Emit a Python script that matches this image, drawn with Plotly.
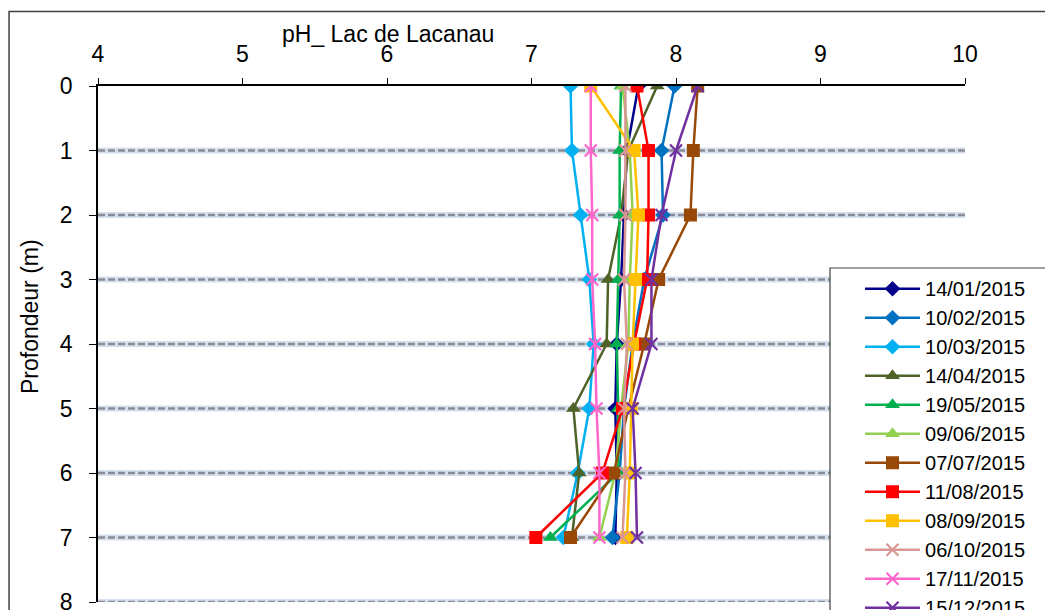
import plotly.graph_objects as go

depths = [0, 1, 2, 3, 4, 5, 6, 7]
depth_ticks = [0, 1, 2, 3, 4, 5, 6, 7, 8]
ph_ticks = [4, 5, 6, 7, 8, 9, 10]

dates = ["14/01/2015", "10/02/2015", "10/03/2015", "14/04/2015", "19/05/2015", "09/06/2015",
         "07/07/2015", "11/08/2015", "08/09/2015", "06/10/2015", "17/11/2015", "15/12/2015"]

ph_14_01 = [7.74, 7.66, 7.64, 7.62, 7.59, 7.58, 7.59, 7.58]
ph_10_02 = [7.99, 7.90, 7.91, 7.78, 7.70, 7.64, 7.61, 7.56]
ph_10_03 = [7.27, 7.28, 7.34, 7.40, 7.43, 7.40, 7.32, 7.22]
ph_14_04 = [7.87, 7.67, 7.62, 7.53, 7.52, 7.29, 7.33, 7.28]
ph_19_05 = [7.62, 7.61, 7.61, 7.60, 7.59, 7.60, 7.60, 7.13]
ph_09_06 = [7.63, 7.68, 7.70, 7.68, 7.67, 7.62, 7.58, 7.47]
ph_07_07 = [8.15, 8.12, 8.10, 7.88, 7.78, 7.67, 7.57, 7.27]
ph_11_08 = [7.73, 7.81, 7.81, 7.80, 7.71, 7.63, 7.49, 7.03]
ph_08_09 = [7.41, 7.71, 7.74, 7.72, 7.70, 7.69, 7.68, 7.66]
ph_06_10 = [7.65, 7.65, 7.65, 7.64, 7.66, 7.64, 7.65, 7.63]
ph_17_11 = [7.41, 7.41, 7.42, 7.42, 7.44, 7.45, 7.47, 7.47]
ph_15_12 = [8.15, 8.00, 7.90, 7.83, 7.83, 7.70, 7.72, 7.73]

series = [ph_14_01, ph_10_02, ph_10_03, ph_14_04, ph_19_05, ph_09_06,
          ph_07_07, ph_11_08, ph_08_09, ph_06_10, ph_17_11, ph_15_12]
colors = ["#00008B", "#0070C0", "#00B0F0", "#4F6228", "#00B050", "#92D050",
          "#984807", "#FF0000", "#FFC000", "#D99694", "#FF66CC", "#7030A0"]
symbols = ["diamond", "diamond", "diamond", "triangle-up", "triangle-up", "triangle-up",
           "square", "square", "square", "x-thin", "x-thin", "x-thin"]

FONT = "Liberation Sans"

fig = go.Figure()
for name, vals, col, sym in zip(dates, series, colors, symbols):
    if sym == "x-thin":
        marker = dict(symbol=sym, size=12, color=col, line=dict(width=2.2, color=col))
    elif sym == "square":
        marker = dict(symbol=sym, size=13, color=col)
    elif sym == "triangle-up":
        marker = dict(symbol=sym, size=13, color=col)
    else:
        marker = dict(symbol=sym, size=12, color=col)
    fig.add_trace(go.Scatter(x=vals, y=depths, name=name, mode="lines+markers",
                             line=dict(color=col, width=2.5), marker=marker))

shapes = []
for d in depth_ticks[1:]:
    shapes.append(dict(type="line", xref="paper", yref="y", x0=0, x1=1, y0=d, y1=d,
                       line=dict(color="#D5E0EE", width=6), layer="below"))
    shapes.append(dict(type="line", xref="paper", yref="y", x0=0, x1=1, y0=d, y1=d,
                       line=dict(color="#8C8C96", width=2.5, dash="7px,3px"), layer="below"))
# outer chart frame
shapes.append(dict(type="rect", xref="paper", yref="paper", x0=-0.1026, x1=1.3, y0=-0.2, y1=1.1444,
                   line=dict(color="#404040", width=1.5), layer="below"))
# legend box
shapes.append(dict(type="rect", xref="paper", yref="paper", x0=0.8443, x1=1.3, y0=-0.2, y1=0.6473,
                   line=dict(color="#404040", width=1.2), fillcolor="white", layer="above"))

fig.update_layout(
    width=1045, height=602,
    margin=dict(l=90, r=88, t=78, b=8, autoexpand=False),
    paper_bgcolor="white", plot_bgcolor="white",
    font=dict(family=FONT, size=22, color="black"),
    shapes=shapes,
    showlegend=True,
    legend=dict(x=0.8789, y=0.645, xanchor="left", yanchor="top",
                bgcolor="rgba(0,0,0,0)", borderwidth=0,
                font=dict(family=FONT, size=20), itemwidth=55, tracegroupgap=0),
    annotations=[
        dict(text="pH_ Lac de Lacanau", xref="paper", yref="paper", x=0.3345, y=1.1015,
             xanchor="center", yanchor="middle",
             showarrow=False, font=dict(family=FONT, size=23)),
        dict(text="Profondeur (m)", xref="paper", yref="paper", x=-0.0784, y=0.5523,
             xanchor="center", yanchor="middle",
             showarrow=False, textangle=-90, font=dict(family=FONT, size=23)),
    ],
)
fig.update_xaxes(side="top", range=[4, 10], tickvals=ph_ticks, showgrid=False, zeroline=False,
                 showline=True, linecolor="black", linewidth=1.5, ticks="outside", ticklen=6,
                 tickcolor="black", tickfont=dict(family=FONT, size=23), ticklabelstandoff=7,
                 ticklabeloverflow="allow")
fig.update_yaxes(range=[8, 0], tickvals=depth_ticks, showgrid=False, zeroline=False,
                 showline=True, linecolor="black", linewidth=1.5, ticks="outside", ticklen=7,
                 tickcolor="black", tickfont=dict(family=FONT, size=23), ticklabelstandoff=12,
                 ticklabeloverflow="allow")

fig.write_html("out.html")
